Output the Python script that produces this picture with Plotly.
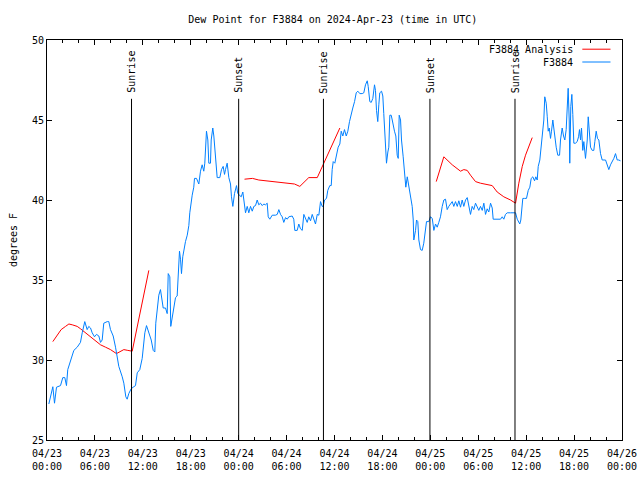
import pandas as pd
import plotly.graph_objects as go

BASE = pd.Timestamp("2024-04-23 00:00")

# Observations (F3884): hours since 2024-04-23 00:00 UTC, dew point (F)
obs_hours = [
    0.23, 0.73, 0.94, 1.19, 1.69, 1.98, 2.23, 2.44, 2.60, 2.94, 3.36, 3.78, 4.19, 4.41, 4.73,
    5.03, 5.23, 5.45, 5.66, 5.95, 6.20, 6.49, 6.70, 6.91, 7.11, 7.54, 7.74, 7.95, 8.29, 8.58,
    8.79, 8.99, 9.42, 9.62, 9.87, 10.04, 10.24, 10.54, 10.79, 11.08, 11.30, 11.62, 11.92, 12.12,
    12.25, 12.46, 12.71, 13.05, 13.30, 13.50, 13.62, 13.80, 14.00, 14.21, 14.43, 14.55, 14.84,
    15.05, 15.18, 15.38, 15.50, 15.68, 15.88, 16.09, 16.30, 16.43, 16.59, 16.72, 16.84, 17.00,
    17.13, 17.34, 17.56, 17.76, 17.88, 18.06, 18.18, 18.38, 18.47, 18.72, 19.01, 19.22, 19.43,
    19.63, 19.76, 19.97, 20.14, 20.26, 20.47, 20.56, 20.76, 20.89, 21.01, 21.19, 21.31, 21.64,
    21.85, 22.06, 22.23, 22.35, 22.56, 22.77, 22.98, 23.10, 23.27, 23.48, 23.73, 23.89, 24.11,
    24.32, 24.52, 24.73, 24.86, 25.07, 25.27, 25.48, 25.70, 25.90, 26.11, 26.32, 26.52, 26.73,
    26.95, 27.15, 27.36, 27.57, 27.70, 27.90, 28.20, 28.61, 28.83, 29.03, 29.24, 29.45, 29.65,
    29.87, 30.08, 30.28, 30.49, 30.70, 30.90, 31.03, 31.33, 31.53, 31.74, 31.96, 32.16, 32.37,
    32.58, 32.78, 33.00, 33.21, 33.41, 33.62, 33.84, 34.04, 34.25, 34.46, 34.59, 34.75, 35.00,
    35.16, 35.41, 35.59, 35.71, 35.84, 36.04, 36.25, 36.46, 36.67, 36.84, 37.04, 37.25, 37.47,
    37.67, 37.88, 38.09, 38.29, 38.51, 38.72, 38.92, 39.17, 39.47, 39.67, 39.88, 40.10, 40.22,
    40.35, 40.42, 40.60, 40.80, 41.01, 41.13, 41.26, 41.42, 41.55, 41.67, 41.89, 42.05, 42.17,
    42.30, 42.39, 42.51, 42.68, 42.80, 42.93, 43.10, 43.23, 43.35, 43.51, 43.68, 43.85, 43.98,
    44.10, 44.27, 44.39, 44.60, 44.77, 44.93, 45.11, 45.27, 45.52, 45.73, 45.86, 45.93, 46.15,
    46.27, 46.43, 46.56, 46.77, 46.98, 47.18, 47.40, 47.52, 47.81, 48.02, 48.24, 48.44, 48.65,
    48.86, 49.06, 49.27, 49.49, 49.69, 49.90, 50.11, 50.31, 50.53, 50.74, 50.94, 51.15, 51.37,
    51.57, 51.78, 51.99, 52.19, 52.41, 52.62, 52.82, 53.03, 53.24, 53.44, 53.66, 53.87, 54.07,
    54.28, 54.50, 54.70, 54.91, 55.12, 55.32, 55.54, 55.75, 55.87, 56.16, 56.37, 56.79, 57.00,
    57.20, 57.41, 57.63, 58.04, 58.45, 58.67, 58.88, 59.04, 59.20, 59.33, 59.58, 59.79, 60.04,
    60.26, 60.46, 60.63, 60.83, 61.05, 61.21, 61.38, 61.51, 61.71, 61.88, 62.08, 62.21, 62.33,
    62.51, 62.64, 62.76, 62.89, 63.05, 63.17, 63.34, 63.46, 63.59, 63.76, 63.96, 64.18, 64.30,
    64.51, 64.68, 64.84, 65.01, 65.14, 65.26, 65.39, 65.46, 65.59, 65.72, 65.84, 65.97, 66.18,
    66.39, 66.56, 66.68, 66.81, 66.93, 67.09, 67.22, 67.43, 67.65, 67.77, 67.90, 68.06, 68.27,
    68.47, 68.60, 68.77, 68.93, 69.10, 69.31, 69.52, 69.94, 70.15, 70.35, 70.56, 70.78, 70.98,
    71.19, 71.40, 71.60, 71.81,
]
obs_values = [
    27.25, 28.33, 27.3, 28.3, 28.4, 28.9, 28.9, 28.4, 29.4, 30.0, 30.6, 30.8, 31.1, 31.7, 32.4,
    31.9, 32.1, 32.0, 31.7, 31.45, 31.6, 31.5, 31.1, 31.25, 32.3, 32.4, 32.4, 31.9, 31.5, 30.8,
    30.2, 29.6, 28.95, 28.55, 27.7, 27.55, 27.9, 28.2, 28.3, 28.4, 29.2, 29.4, 30.1, 31.1,
    31.7, 32.15, 31.8, 31.25, 30.6, 30.5, 32.3, 33.25, 34.05, 34.4, 33.75, 33.25, 33.25,
    32.9, 35.4, 35.2, 32.1, 32.7, 33.1, 33.9, 34.0, 35.0, 36.8, 36.3, 35.4, 36.45,
    36.9, 37.4, 37.8, 38.4, 39.2, 40.0, 40.3, 40.8, 41.35, 41.35, 41.0, 41.8, 42.2,
    41.8, 42.3, 44.3, 43.75, 42.3, 42.3, 43.75, 44.5, 44.0, 43.3, 42.3, 41.4, 41.4,
    41.9, 42.1, 41.6, 41.9, 42.3, 41.4, 41.0, 40.2, 39.6, 40.4, 40.9, 40.4, 40.3,
    40.2, 40.5, 39.6, 39.2, 39.6, 39.2, 39.6, 39.3, 39.6, 39.65, 40.0, 39.7, 39.8,
    39.65, 39.75, 39.7, 39.8, 38.95, 38.8, 39.05, 39.05, 39.1, 39.4, 39.1, 38.95, 38.6,
    38.9, 38.8, 38.95, 39.0, 39.0, 38.8, 38.1, 38.1, 38.5, 38.2, 38.1, 39.1, 38.85,
    38.6, 38.95, 38.7, 39.1, 38.75, 38.5, 39.1, 39.05, 39.9, 39.6, 39.6, 40.0, 40.1,
    40.6, 40.9, 40.9, 41.9, 42.4, 42.3, 42.9, 43.3, 43.5, 44.3, 44.0, 44.4, 44.0,
    44.3, 44.9, 45.4, 45.75, 46.15, 46.7, 46.8, 46.65, 46.65, 46.7, 47.2, 47.45, 47.1,
    46.6, 46.15, 46.1, 46.35, 47.2, 46.85, 45.6, 44.9, 45.95, 46.7, 46.8, 46.5, 45.4,
    44.4, 43.4, 42.3, 43.0, 43.3, 45.3, 45.3, 45.0, 44.6, 44.3, 44.0, 42.8, 42.6,
    45.3, 45.0, 43.75, 42.7, 41.45, 40.8, 41.45, 41.0, 40.4, 39.6, 38.75, 37.5, 38.1,
    38.75, 38.65, 37.5, 36.9, 36.85, 37.3, 38.3, 38.65, 38.65, 38.95, 38.85, 38.1, 38.5,
    38.3, 38.6, 38.95, 39.6, 40.0, 40.05, 39.4, 39.6, 39.8, 39.9, 39.6, 39.9, 39.6,
    39.95, 39.55, 40.0, 39.6, 40.0, 40.15, 39.6, 39.1, 39.6, 39.4, 39.8, 39.6, 39.35,
    39.6, 39.35, 39.8, 39.1, 39.45, 39.25, 39.8, 39.5, 38.8, 38.8, 38.8, 38.8, 38.95,
    38.8, 39.1, 39.2, 39.2, 39.2, 39.2, 38.8, 38.6, 38.5, 38.75, 40.1, 40.1, 40.1,
    40.6, 40.8, 41.35, 41.45, 41.2, 41.45, 41.25, 42.1, 42.5, 43.3, 44.4, 45.0, 46.45,
    46.05, 45.2, 44.3, 44.5, 43.85, 44.3, 45.0, 44.5, 43.75, 43.3, 42.8, 42.8, 43.75,
    44.5, 44.0, 43.75, 44.4, 46.15, 46.98, 45.0, 42.3, 45.85, 46.6, 45.35, 43.55, 43.55,
    43.65, 43.95, 44.4, 43.75, 44.5, 43.1, 43.65, 42.6, 43.75, 45.2, 44.3, 43.3, 43.1,
    43.1, 43.65, 44.3, 43.85, 43.75, 42.9, 42.5, 42.5, 42.25, 41.9, 42.2, 42.4, 42.6,
    42.9, 42.5, 42.5, 42.45,
]

# Analysis (F3884 Analysis): three segments separated by gaps (None)
ana_hours = [
    0.73, 1.25, 1.77, 2.32, 2.74, 3.16, 3.78, 4.20, 4.82, 5.45, 6.07, 6.70, 7.33, 7.95,
    8.70, 9.20, 9.62, 10.12, 10.67, 12.75,
    None,
    24.73, 25.27, 25.73, 26.52, 27.57, 28.40, 29.24, 30.28, 30.99, 31.66, 32.78, 33.84, 36.67,
    None,
    48.74, 49.69, 50.74, 51.78, 52.19, 52.62, 53.03, 53.66, 54.28, 55.12, 55.75, 56.37, 57.20,
    58.04, 58.67, 59.08, 59.51, 59.92, 60.33, 60.76,
]
ana_values = [
    31.15, 31.55, 31.9, 32.1, 32.25, 32.2, 32.1, 31.95, 31.7, 31.45, 31.15, 30.95, 30.8, 30.65,
    30.4, 30.55, 30.65, 30.6, 30.55, 35.6,
    None,
    41.3, 41.35, 41.35, 41.25, 41.2, 41.15, 41.1, 41.05, 41.0, 40.85, 41.4, 41.4, 44.5,
    None,
    41.15, 42.7, 42.2, 41.8, 41.9, 41.85, 41.55, 41.15, 41.05, 40.95, 40.9, 40.5, 40.2,
    40.0, 39.8, 41.05, 42.1, 42.8, 43.3, 43.9,
]

event_labels = ["Sunrise", "Sunset", "Sunrise", "Sunset", "Sunrise"]
event_times = ["2024-04-23 10:35", "2024-04-24 00:00", "2024-04-24 10:37",
               "2024-04-24 23:57", "2024-04-25 10:36"]

series_names = ["F3884 Analysis", "F3884"]
series_colors = ["#ff0000", "#0080ff"]

FONT = "DejaVu Sans Mono"


def to_time(hours):
    return [BASE + pd.to_timedelta(h, unit="h") if h is not None else None for h in hours]


fig = go.Figure()
fig.add_trace(go.Scatter(x=to_time(ana_hours), y=ana_values, mode="lines",
                         line=dict(color=series_colors[0], width=1), connectgaps=False,
                         name=series_names[0], showlegend=False))
fig.add_trace(go.Scatter(x=to_time(obs_hours), y=obs_values, mode="lines",
                         line=dict(color=series_colors[1], width=1),
                         name=series_names[1], showlegend=False))

shapes = []
annotations = []
for lab, t in zip(event_labels, event_times):
    shapes.append(dict(type="line", xref="x", yref="paper", x0=t, x1=t, y0=0, y1=0.853,
                       line=dict(color="black", width=1)))
    annotations.append(dict(x=t, y=0.862, xref="x", yref="paper", text=lab, textangle=-90,
                            showarrow=False, xanchor="center", yanchor="bottom",
                            font=dict(family=FONT, size=10, color="black")))

# custom gnuplot-style legend (text right, sample line after it)
leg_y = [0.977, 0.945]
for name, col, ly in zip(series_names, series_colors, leg_y):
    annotations.append(dict(x=0.918, y=ly, xref="paper", yref="paper", text=name,
                            showarrow=False, xanchor="right", yanchor="middle",
                            font=dict(family=FONT, size=10, color="black")))
    shapes.append(dict(type="line", xref="paper", yref="paper", x0=0.931, x1=0.98,
                       y0=ly, y1=ly, line=dict(color=col, width=1)))

fig.update_layout(
    width=640, height=480,
    margin=dict(l=47, r=18, t=40, b=40, autoexpand=False),
    paper_bgcolor="white", plot_bgcolor="white",
    font=dict(family=FONT, size=10, color="black"),
    title=dict(text="Dew Point for F3884 on 2024-Apr-23 (time in UTC)", x=0.52, xanchor="center",
               y=0.96, yanchor="middle", yref="container",
               font=dict(family=FONT, size=10, color="black")),
    shapes=shapes, annotations=annotations,
    showlegend=False,
)
fig.update_xaxes(
    type="date", range=["2024-04-23 00:00", "2024-04-26 00:00"],
    tick0="2024-04-23 00:00", dtick=6 * 3600 * 1000, tickformat="%m/%d<br>%H:%M",
    ticks="inside", ticklen=5, tickcolor="black", ticklabelstandoff=4,
    showline=True, linecolor="black", linewidth=1, mirror="allticks",
    showgrid=False, zeroline=False, automargin=False,
    minor=dict(dtick=2 * 3600 * 1000, ticks="inside", ticklen=3, tickcolor="black", showgrid=False),
    tickfont=dict(family=FONT, size=10),
)
fig.update_yaxes(
    range=[25, 50], dtick=5, tick0=25,
    ticks="inside", ticklen=5, tickcolor="black",
    showline=True, linecolor="black", linewidth=1, mirror="allticks",
    showgrid=False, zeroline=False, automargin=False,
    title=dict(text="degrees F", font=dict(family=FONT, size=10), standoff=12),
    tickfont=dict(family=FONT, size=10),
)

fig.write_html("out.html", config={"displayModeBar": False},
               post_script="document.body.style.margin='0';")
